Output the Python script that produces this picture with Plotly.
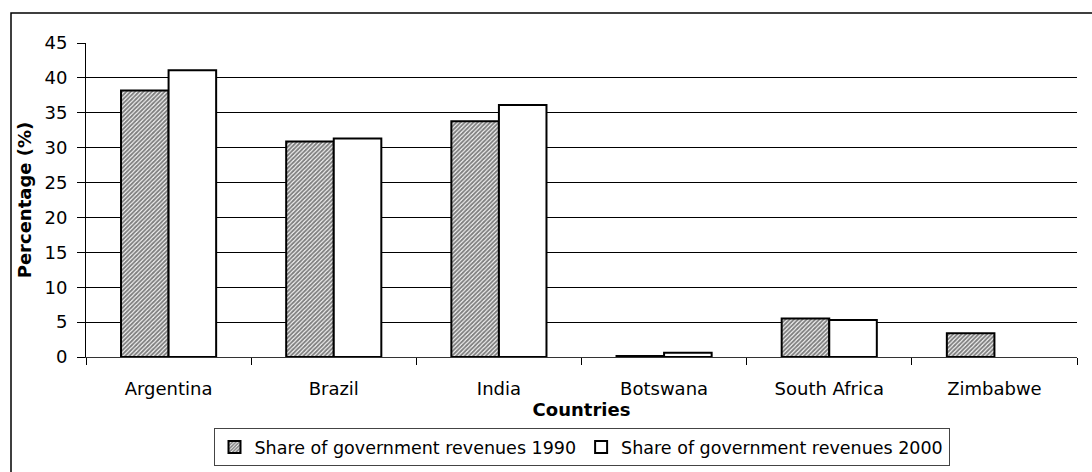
import plotly.graph_objects as go

countries = ["Argentina", "Brazil", "India", "Botswana", "South Africa", "Zimbabwe"]
share_1990 = [38.2, 30.9, 33.8, 0.15, 5.5, 3.4]
share_2000 = [41.1, 31.3, 36.1, 0.6, 5.3, None]
y_ticks = [0, 5, 10, 15, 20, 25, 30, 35, 40, 45]

FONT = "DejaVu Sans, Verdana, sans-serif"
FS = 18

fig = go.Figure()
fig.add_trace(go.Bar(
    x=countries, y=share_1990, name="Share of government revenues 1990",
    marker=dict(color="white", line=dict(color="black", width=2),
                pattern=dict(shape="/", size=3, solidity=0.65, fgcolor="black", bgcolor="white")),
))
fig.add_trace(go.Bar(
    x=countries, y=share_2000, name="Share of government revenues 2000",
    marker=dict(color="white", line=dict(color="black", width=2)),
))

fig.update_layout(
    width=1092, height=472,
    margin=dict(l=86, r=15, t=43, b=115, autoexpand=False),
    paper_bgcolor="white", plot_bgcolor="white",
    font=dict(family=FONT, size=FS, color="black"),
    barmode="group", bargap=0.424, bargroupgap=0,
    showlegend=True,
    legend=dict(orientation="h", x=0.5, xanchor="center",
                yref="container", y=1 - 428 / 472, yanchor="top",
                bordercolor="#444", borderwidth=1, bgcolor="white",
                font=dict(family=FONT, size=17.5), itemwidth=30,
                traceorder="normal", tracegroupgap=0),
    xaxis=dict(
        automargin=False,
        showgrid=False, showline=True, linecolor="#333", linewidth=1,
        ticks="outside", tickson="boundaries", ticklen=7, tickcolor="black",
        ticklabelstandoff=15,
        tickfont=dict(family=FONT, size=FS),
        title=dict(text="<b>Countries</b>", font=dict(family=FONT, size=FS), standoff=0),
    ),
    yaxis=dict(
        automargin=False,
        range=[0, 45], tickvals=y_ticks, showgrid=True, gridcolor="black", gridwidth=1,
        showline=True, linecolor="black", linewidth=1,
        ticks="outside", ticklen=8, tickcolor="black",
        ticklabelstandoff=6,
        tickfont=dict(family=FONT, size=FS),
        title=dict(text="<b>Percentage (%)</b>", font=dict(family=FONT, size=FS), standoff=8),
        zeroline=False,
    ),
    shapes=[dict(type="rect", xref="paper", yref="paper",
                 x0=(11 - 86) / 991, x1=(1100 - 86) / 991,
                 y0=(357 - 480) / 314, y1=(357 - 13) / 314,
                 line=dict(color="black", width=1.5), fillcolor="rgba(0,0,0,0)", layer="below")],
)

fig.write_html("out.html")
